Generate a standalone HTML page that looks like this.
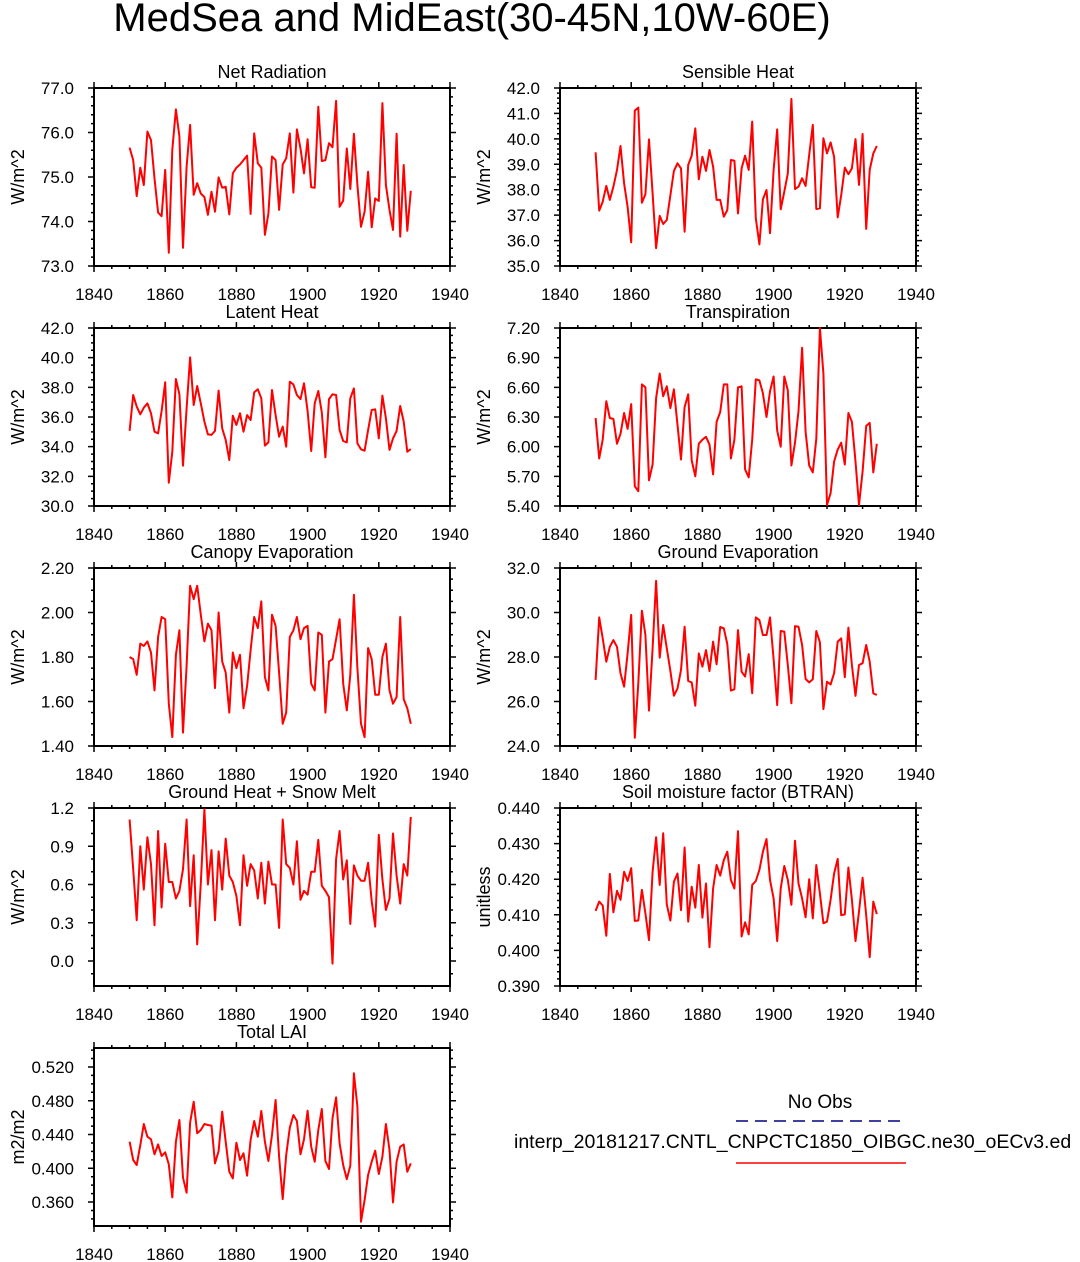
<!DOCTYPE html>
<html><head><meta charset="utf-8">
<style>
html,body{margin:0;padding:0;background:#fff;overflow:hidden;}
svg{display:block;font-family:"Liberation Sans",sans-serif;}
</style></head>
<body>
<svg id="chart" width="1080" height="1262" viewBox="0 0 1080 1262" xmlns="http://www.w3.org/2000/svg">
<text x="472" y="31" font-size="40" text-anchor="middle">MedSea and MidEast(30-45N,10W-60E)</text>
<g id="panels"></g>
<g>
<text x="820" y="1108" font-size="19" text-anchor="middle">No Obs</text>
<line x1="736" y1="1121" x2="906" y2="1121" stroke="#000080" stroke-width="1.5" stroke-dasharray="12,7"/>
<text x="514" y="1148" font-size="19.5">interp_20181217.CNTL_CNPCTC1850_OIBGC.ne30_oECv3.ed</text>
<line x1="736" y1="1163" x2="906" y2="1163" stroke="#ff0000" stroke-width="1.5"/>
</g>
</svg>
<script>
const years = Array.from({length:80},(_, i)=>1850+i);
const netRad = [75.66,75.38,74.57,75.21,74.82,76.02,75.83,74.97,74.20,74.12,75.16,73.30,75.61,76.52,75.91,73.41,75.23,76.17,74.60,74.86,74.63,74.55,74.15,74.67,74.22,74.99,74.76,74.78,74.16,75.08,75.21,75.28,75.38,75.48,74.17,75.98,75.31,75.21,73.70,74.18,75.46,75.38,74.26,75.28,75.42,75.98,74.65,76.07,75.64,75.08,75.85,74.77,74.76,76.58,75.36,75.38,75.76,75.67,76.71,74.33,74.47,75.64,74.73,75.97,74.82,73.88,74.22,75.12,73.87,74.52,74.46,76.66,74.82,74.26,73.81,75.97,73.66,75.27,73.79,74.69];
const sensible = [39.47,37.18,37.53,38.15,37.60,38.12,38.78,39.72,38.25,37.33,35.93,41.11,41.23,37.49,37.82,39.98,37.86,35.70,36.97,36.65,36.81,37.79,38.74,39.04,38.84,36.35,38.97,39.34,40.41,38.41,39.30,38.74,39.56,38.91,37.60,37.60,36.94,37.20,39.17,39.14,37.07,38.84,39.34,38.78,40.68,36.88,35.85,37.62,37.99,36.29,38.78,40.37,37.23,37.92,38.64,41.57,38.03,38.12,38.45,38.15,39.37,40.55,37.24,37.27,40.02,39.43,39.86,39.30,36.91,37.79,38.87,38.61,38.84,39.99,38.19,40.19,36.46,38.78,39.43,39.72];
const latent = [35.06,37.48,36.70,36.18,36.63,36.92,36.25,35.01,34.90,36.40,38.34,31.57,33.66,38.56,37.53,32.72,36.58,40.02,36.81,38.09,36.92,35.69,34.83,34.79,35.06,37.78,35.24,34.45,33.10,36.09,35.46,36.25,35.01,36.13,35.80,37.66,37.87,37.26,34.07,34.29,37.82,36.13,34.67,35.35,34.00,38.38,38.20,37.48,37.21,38.27,36.40,33.71,36.92,37.75,36.31,33.28,37.21,37.53,37.48,35.12,34.38,34.29,37.26,37.93,34.22,33.82,33.73,35.12,36.47,36.52,34.56,37.44,35.91,33.78,34.56,35.06,36.74,35.69,33.66,33.84];
const transp = [6.29,5.88,6.07,6.46,6.29,6.28,6.03,6.13,6.34,6.18,6.43,5.60,5.55,6.63,6.60,5.66,5.82,6.49,6.74,6.51,6.61,6.39,6.58,6.22,5.87,6.40,6.53,5.86,5.70,6.03,6.07,6.10,6.02,5.72,6.25,6.35,6.63,6.63,5.88,6.07,6.60,6.61,5.77,5.69,6.07,6.68,6.67,6.54,6.30,6.56,6.71,6.16,6.00,6.71,6.57,5.81,6.04,6.36,7.00,6.15,5.81,5.74,6.08,7.20,6.74,5.41,5.53,5.85,5.97,6.04,5.82,6.34,6.25,5.85,5.41,5.75,6.21,6.24,5.74,6.03];
const canopy = [1.80,1.79,1.72,1.86,1.85,1.87,1.82,1.65,1.89,1.98,1.97,1.59,1.44,1.81,1.92,1.46,1.76,2.12,2.06,2.12,1.99,1.87,1.95,1.92,1.66,2.00,1.78,1.73,1.55,1.82,1.75,1.81,1.57,1.67,1.83,1.98,1.93,2.05,1.71,1.65,1.99,1.94,1.73,1.50,1.55,1.89,1.92,1.98,1.88,1.93,1.94,1.68,1.65,1.91,1.90,1.55,1.78,1.79,1.88,1.97,1.68,1.56,1.72,2.08,1.75,1.50,1.44,1.84,1.79,1.63,1.63,1.80,1.86,1.65,1.59,1.62,1.98,1.61,1.57,1.50];
const groundEvap = [26.97,29.78,28.84,27.79,28.46,28.76,28.46,27.27,26.67,28.16,29.89,24.37,26.82,30.08,28.99,25.59,28.39,31.42,27.97,29.44,28.39,27.37,26.26,26.59,27.42,29.36,26.92,26.86,25.81,28.16,27.57,28.31,27.37,28.69,27.67,29.35,29.29,28.58,26.49,26.55,29.21,27.34,27.12,28.13,26.37,29.78,29.66,28.99,28.99,29.78,27.90,25.84,29.17,29.14,27.64,25.92,29.39,29.36,28.54,27.01,26.86,27.00,29.17,28.66,25.66,26.89,26.77,27.27,28.69,28.84,27.09,29.32,27.64,26.25,27.64,27.72,28.54,27.79,26.37,26.29];
const groundHeat = [1.11,0.72,0.32,0.90,0.56,0.97,0.76,0.28,1.02,0.42,0.92,0.62,0.62,0.49,0.55,0.72,1.11,0.43,0.83,0.13,0.61,1.19,0.60,0.87,0.32,0.86,0.56,0.96,0.67,0.62,0.51,0.28,0.83,0.59,0.76,0.71,0.49,0.77,0.45,0.78,0.60,0.60,0.26,1.11,0.76,0.73,0.60,0.94,0.48,0.55,0.52,0.70,0.70,0.95,0.59,0.55,0.50,-0.02,0.80,1.02,0.64,0.79,0.29,0.75,0.67,0.63,0.63,0.77,0.47,0.27,0.99,0.64,0.40,0.49,1.00,0.67,0.45,0.76,0.67,1.13];
const btran = [0.4111,0.4137,0.4126,0.4041,0.4215,0.4107,0.4167,0.4142,0.4221,0.4195,0.4231,0.4083,0.4084,0.4170,0.4104,0.4029,0.4221,0.4318,0.4184,0.4329,0.4129,0.4084,0.4193,0.4216,0.4113,0.4289,0.4081,0.4179,0.4120,0.4240,0.4092,0.4188,0.4009,0.4174,0.4240,0.4210,0.4254,0.4277,0.4198,0.4174,0.4335,0.4039,0.4079,0.4045,0.4184,0.4195,0.4226,0.4277,0.4313,0.4198,0.4146,0.4026,0.4174,0.4237,0.4198,0.4128,0.4308,0.4188,0.4146,0.4093,0.4200,0.4090,0.4240,0.4160,0.4076,0.4081,0.4142,0.4216,0.4257,0.4099,0.4101,0.4233,0.4142,0.4026,0.4109,0.4204,0.4099,0.3981,0.4137,0.4102];
const lai = [0.4315,0.4098,0.4038,0.4275,0.4524,0.4374,0.4343,0.4165,0.4283,0.4145,0.4189,0.4046,0.3655,0.4315,0.4572,0.3888,0.3710,0.4540,0.4789,0.4414,0.4453,0.4524,0.4513,0.4505,0.4058,0.4204,0.4671,0.4315,0.3959,0.3880,0.4303,0.4098,0.4177,0.3912,0.4335,0.4560,0.4374,0.4678,0.4315,0.4086,0.4394,0.4809,0.4137,0.3635,0.4157,0.4481,0.4631,0.4560,0.4165,0.4343,0.4682,0.4256,0.4078,0.4453,0.4702,0.4086,0.3991,0.4592,0.4840,0.4295,0.4038,0.3872,0.4030,0.5125,0.4730,0.3367,0.3624,0.3920,0.4078,0.4208,0.3932,0.4137,0.4524,0.4216,0.3596,0.4078,0.4256,0.4283,0.3959,0.4058];
const xTicks = [1840,1860,1880,1900,1920,1940];

const panels = [
 {name:'net-radiation',title:'Net Radiation',unit:'W/m^2',data:netRad,col:0,row:0,min:73,max:77,step:1,minor:0.2,dec:1},
 {name:'sensible-heat',title:'Sensible Heat',unit:'W/m^2',data:sensible,col:1,row:0,min:35,max:42,step:1,minor:0.2,dec:1},
 {name:'latent-heat',title:'Latent Heat',unit:'W/m^2',data:latent,col:0,row:1,min:30,max:42,step:2,minor:0.5,dec:1},
 {name:'transpiration',title:'Transpiration',unit:'W/m^2',data:transp,col:1,row:1,min:5.4,max:7.2,step:0.3,minor:0.1,dec:2},
 {name:'canopy-evaporation',title:'Canopy Evaporation',unit:'W/m^2',data:canopy,col:0,row:2,min:1.4,max:2.2,step:0.2,minor:0.05,dec:2},
 {name:'ground-evaporation',title:'Ground Evaporation',unit:'W/m^2',data:groundEvap,col:1,row:2,min:24,max:32,step:2,minor:0.5,dec:1},
 {name:'ground-heat-snow-melt',title:'Ground Heat + Snow Melt',unit:'W/m^2',data:groundHeat,col:0,row:3,min:-0.196,max:1.2,t0:0,step:0.3,minor:0.1,dec:1},
 {name:'soil-moisture-factor',title:'Soil moisture factor (BTRAN)',unit:'unitless',data:btran,col:1,row:3,min:0.39,max:0.44,step:0.01,minor:0.002,dec:3},
 {name:'total-lai',title:'Total LAI',unit:'m2/m2',data:lai,col:0,row:4,min:0.3316,max:0.5425,t0:0.36,step:0.04,minor:0.01,dec:3}
];
const NS='http://www.w3.org/2000/svg';
const root=document.getElementById('panels');
function mk(tag,attrs,parent){const e=document.createElementNS(NS,tag);for(const k in attrs)e.setAttribute(k,attrs[k]);parent.appendChild(e);return e;}
panels.forEach(p=>{
  const L=p.col?560:94, W=356, T=88+p.row*240, H=178;
  const xs=y=>L+(y-1840)/100*W;
  const ys=v=>T+H-(v-p.min)/(p.max-p.min)*H;
  const g=mk('g',{},root);
  
  
  const box=mk('rect',{x:L,y:T,width:W,height:H,fill:'none',stroke:'#000','stroke-width':2},g);
  
  
  const t=mk('text',{x:L+W/2,y:T-10,'font-size':18,'text-anchor':'middle'},g);t.textContent=p.title;
  
  
  const yl=mk('text',{x:0,y:0,'font-size':18,'text-anchor':'middle',transform:`translate(${L-70},${T+H/2}) rotate(-90)`},g);yl.textContent=p.unit;
  
  
  let d='';
  for(let yr=1840;yr<=1940;yr+=5){const x=xs(yr);const len=(yr%20===0)?6:3;d+=`M${x} ${T+H}v${len}M${x} ${T}v${-len}`;}
  xTicks.forEach(yr=>{const tx=mk('text',{x:xs(yr),y:T+H+34,'font-size':17,'text-anchor':'middle'},g);tx.textContent=yr;
    
    });
  const t0=p.t0!==undefined?p.t0:p.min;
  const eps=1e-9;
  let m=Math.ceil((p.min-eps)/p.minor);
  for(let v=m*p.minor; v<=p.max+eps; v+=p.minor){const y=ys(v);d+=`M${L} ${y}h-3M${L+W} ${y}h3`;}
  for(let v=t0; v<=p.max+eps; v+=p.step){const y=ys(v);d+=`M${L} ${y}h-6M${L+W} ${y}h6`;
    const ty=mk('text',{x:L-20,y:y+6,'font-size':17,'text-anchor':'end'},g);ty.textContent=(Math.abs(v)<eps?0:v).toFixed(p.dec);
    
    }
  const tk=mk('path',{d:d,stroke:'#000','stroke-width':1.5,fill:'none'},g);
  
  
  const pts=p.data.map((v,i)=>`${xs(years[i]).toFixed(1)},${ys(v).toFixed(1)}`).join(' ');
  const ln=mk('polyline',{points:pts,fill:'none',stroke:'#ff0000','stroke-width':2,'stroke-linejoin':'round'},g);
  
  
});
</script>
</body></html>
